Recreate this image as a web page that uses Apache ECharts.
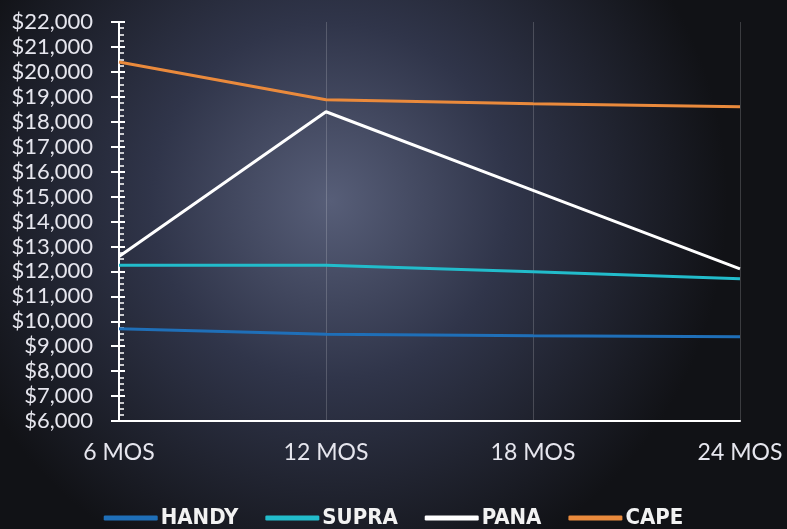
<!DOCTYPE html>
<html>
<head>
<meta charset="utf-8">
<script src="https://cdn.jsdelivr.net/npm/echarts@6/dist/echarts.min.js"></script>
<style>
  html, body { margin:0; padding:0; background:#15171c; }
  #chart { width:787px; height:529px; }
</style>
</head>
<body>
<div id="chart"></div>
<script>
const categories = ['6 MOS', '12 MOS', '18 MOS', '24 MOS'];
const handy = [9700, 9480, 9420, 9380];
const supra = [12250, 12250, 11980, 11700];
const pana  = [12600, 18400, 15250, 12100];
const cape  = [20400, 18880, 18720, 18600];

const chart = echarts.init(document.getElementById('chart'));

const lineSeries = (name, data, color) => ({
  name, type:'line', data,
  symbol:'none',
  lineStyle:{color, width:3},
  itemStyle:{color},
  animation:false
});

chart.setOption({
  backgroundColor: {
    type:'radial', x:0.42, y:0.38, r:0.75,
    colorStops:[
      {offset:0, color:'#575e78'},
      {offset:0.45, color:'#30354a'},
      {offset:1, color:'#111216'}
    ]
  },
  grid:{left:119, right:47, top:22, bottom:108},
  legend:{
    top:502, left:'center',
    itemWidth:54, itemHeight:5, itemGap:27,
    icon:'roundRect',
    textStyle:{color:'#f2f2f2', fontSize:22, fontWeight:'bold', fontFamily:'DejaVu Sans Condensed, sans-serif', padding:[0,0,0,-2]},
    data:['HANDY','SUPRA','PANA','CAPE']
  },
  xAxis:{
    type:'category', data:categories, boundaryGap:false,
    axisLine:{lineStyle:{color:'#ffffff', width:2}},
    axisTick:{show:false},
    axisLabel:{color:'#e6e6ee', fontSize:23, fontFamily:'Lato, sans-serif', margin:20},
    splitLine:{show:true, lineStyle:{color:'rgba(255,255,255,0.18)', width:1}}
  },
  yAxis:[{
    type:'value', min:6000, max:22000, interval:1000,
    axisLine:{show:true, lineStyle:{color:'#ffffff', width:2}},
    axisTick:{show:true, length:8, lineStyle:{color:'#ffffff', width:2}},
    minorTick:{show:false},
    axisLabel:{color:'#e6e6ee', fontSize:22, fontFamily:'Lato, sans-serif', margin:26,
      formatter: v => '$' + v.toLocaleString('en-US')},
    splitLine:{show:false}
  },{
    type:'value', min:6000, max:22000, interval:1000, position:'left',
    axisLine:{show:false},
    axisTick:{show:true, inside:true, length:6, lineStyle:{color:'#ffffff', width:2}},
    minorTick:{show:true, splitNumber:4, length:5, lineStyle:{color:'#ffffff', width:1.5}},
    axisLabel:{show:false},
    splitLine:{show:false}
  }],
  series:[
    lineSeries('HANDY', handy, '#1f6fb8'),
    lineSeries('SUPRA', supra, '#22bccb'),
    lineSeries('PANA', pana, '#ffffff'),
    lineSeries('CAPE', cape, '#ea8a3c')
  ]
});
</script>
</body>
</html>
